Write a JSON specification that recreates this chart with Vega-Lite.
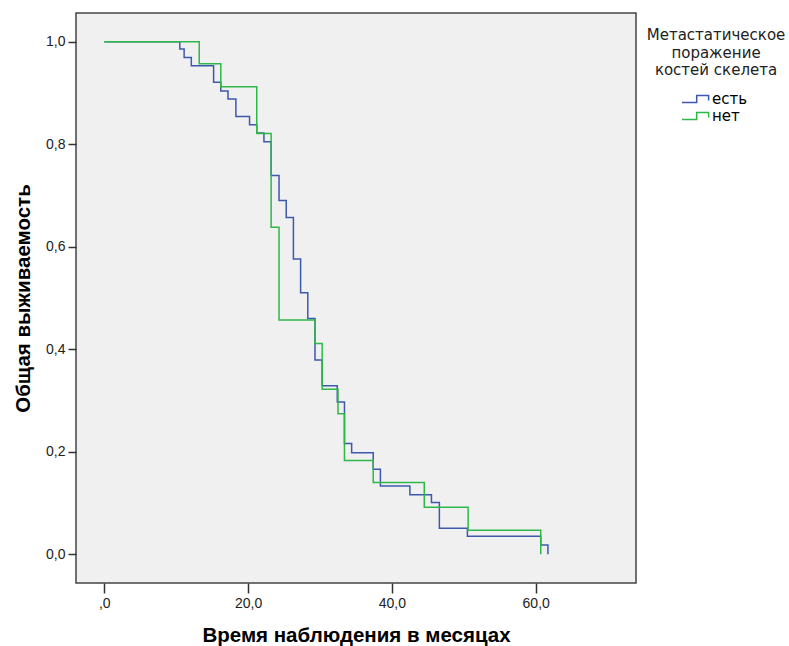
{
  "$schema": "https://vega.github.io/schema/vega-lite/v6.json",
  "width": 560,
  "height": 570,
  "autosize": {"type": "none"},
  "padding": {"left": 76, "top": 13, "right": 153, "bottom": 63},
  "background": "white",
  "config": {
    "font": "Liberation Sans",
    "view": {"fill": "#F0F0F0", "stroke": "#444444", "strokeWidth": 1.5},
    "axis": {
      "grid": false,
      "domain": false,
      "labelFont": "Liberation Sans",
      "labelFontSize": 14,
      "labelColor": "#222222",
      "tickColor": "#333333",
      "tickWidth": 1.5,
      "titleFont": "Liberation Sans",
      "titleFontSize": 20.5,
      "titleFontWeight": "bold",
      "titleColor": "#000000"
    }
  },
  "data": {
    "values": [
      {"t": 0, "s": 1.0, "g": "есть"},
      {"t": 10.5, "s": 0.986, "g": "есть"},
      {"t": 11.1, "s": 0.969, "g": "есть"},
      {"t": 12.1, "s": 0.953, "g": "есть"},
      {"t": 15.2, "s": 0.921, "g": "есть"},
      {"t": 16.2, "s": 0.904, "g": "есть"},
      {"t": 17.2, "s": 0.888, "g": "есть"},
      {"t": 18.3, "s": 0.854, "g": "есть"},
      {"t": 20.2, "s": 0.838, "g": "есть"},
      {"t": 21.2, "s": 0.822, "g": "есть"},
      {"t": 22.2, "s": 0.805, "g": "есть"},
      {"t": 23.2, "s": 0.739, "g": "есть"},
      {"t": 24.3, "s": 0.69, "g": "есть"},
      {"t": 25.3, "s": 0.657, "g": "есть"},
      {"t": 26.3, "s": 0.576, "g": "есть"},
      {"t": 27.3, "s": 0.51, "g": "есть"},
      {"t": 28.3, "s": 0.46, "g": "есть"},
      {"t": 29.3, "s": 0.379, "g": "есть"},
      {"t": 30.3, "s": 0.329, "g": "есть"},
      {"t": 32.4, "s": 0.297, "g": "есть"},
      {"t": 33.4, "s": 0.216, "g": "есть"},
      {"t": 34.4, "s": 0.198, "g": "есть"},
      {"t": 37.4, "s": 0.166, "g": "есть"},
      {"t": 38.4, "s": 0.133, "g": "есть"},
      {"t": 42.5, "s": 0.116, "g": "есть"},
      {"t": 45.5, "s": 0.101, "g": "есть"},
      {"t": 46.6, "s": 0.051, "g": "есть"},
      {"t": 50.5, "s": 0.035, "g": "есть"},
      {"t": 60.7, "s": 0.018, "g": "есть"},
      {"t": 61.7, "s": 0.0, "g": "есть"},
      {"t": 0, "s": 1.0, "g": "нет"},
      {"t": 13.2, "s": 0.957, "g": "нет"},
      {"t": 16.2, "s": 0.912, "g": "нет"},
      {"t": 21.2, "s": 0.821, "g": "нет"},
      {"t": 23.2, "s": 0.638, "g": "нет"},
      {"t": 24.3, "s": 0.457, "g": "нет"},
      {"t": 29.3, "s": 0.411, "g": "нет"},
      {"t": 30.3, "s": 0.322, "g": "нет"},
      {"t": 32.5, "s": 0.274, "g": "нет"},
      {"t": 33.4, "s": 0.183, "g": "нет"},
      {"t": 37.4, "s": 0.14, "g": "нет"},
      {"t": 44.5, "s": 0.092, "g": "нет"},
      {"t": 50.6, "s": 0.047, "g": "нет"},
      {"t": 60.7, "s": 0.0, "g": "нет"}
    ]
  },
  "mark": {"type": "line", "interpolate": "step-after", "strokeWidth": 1.5},
  "encoding": {
    "x": {
      "field": "t",
      "type": "quantitative",
      "scale": {"domain": [-3.94, 73.95], "nice": false, "zero": false},
      "axis": {
        "title": "Время наблюдения в месяцах",
        "values": [0, 20, 40, 60],
        "labelExpr": "datum.value == 0 ? ',0' : replace(format(datum.value, '.1f'), '.', ',')",
        "tickSize": 10,
        "labelPadding": 3,
        "titlePadding": 15.5
      }
    },
    "y": {
      "field": "s",
      "type": "quantitative",
      "scale": {"domain": [-0.056, 1.056], "nice": false, "zero": false},
      "axis": {
        "title": "Общая выживаемость",
        "values": [0, 0.2, 0.4, 0.6, 0.8, 1.0],
        "labelExpr": "replace(format(datum.value, '.1f'), '.', ',')",
        "tickSize": 8,
        "labelPadding": 3,
        "titlePadding": 12.5
      }
    },
    "color": {
      "field": "g",
      "type": "nominal",
      "scale": {"domain": ["есть", "нет"], "range": ["#3E58AC", "#2EB848"]},
      "legend": {
        "title": ["Метастатическое", "поражение", "костей скелета"],
        "orient": "none",
        "legendX": 571,
        "legendY": 15.2,
        "padding": 0,
        "titleAnchor": "middle",
        "titleAlign": "center",
        "titleFont": "DejaVu Sans",
        "titleFontSize": 15,
        "titleFontWeight": "normal",
        "titleColor": "#222222",
        "titleLineHeight": 17.5,
        "titlePadding": 12.8,
        "labelFont": "DejaVu Sans",
        "labelFontSize": 15,
        "labelColor": "#000000",
        "symbolType": "M-2,0.5H0.1V-0.5H1.8V0.2",
        "symbolSize": 196,
        "symbolStrokeWidth": 1.5,
        "symbolOffset": 4,
        "labelOffset": 8,
        "rowPadding": 1
      }
    }
  }
}
